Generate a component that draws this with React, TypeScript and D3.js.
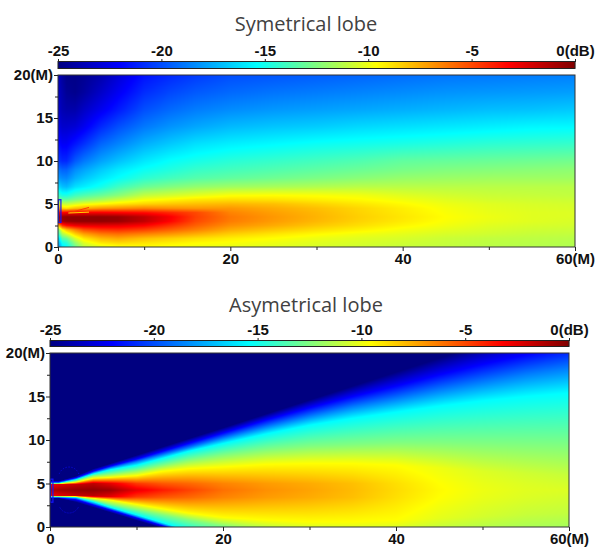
import { useEffect, useRef } from 'react';
import * as d3 from 'd3';

const width = 597;
const height = 547;

// colour bar stops (dB -> colour)
const dbStops = [-25, -22, -15.4, -12.5, -9.6, -3.2, 0];
const colourStops = ['#000080', '#0000ff', '#00ffff', '#80ff80', '#ffff00', '#ff0000', '#800000'];
const barTicks = [-25, -20, -15, -10, -5, 0];
const xTicks = [0, 20, 40, 60];
const xMinor = [10, 30, 50];
const yTicks = [0, 5, 10, 15, 20];
const yMinor = [2.5, 7.5, 12.5, 17.5];

// symetrical lobe: levels on a fixed grid, metres
const sampleX = [0, 0.5, 1, 2, 3, 5, 7, 10, 13, 16, 20, 25, 30, 35, 40, 45, 50, 55, 60];
const sampleY = [20, 18, 16, 14, 12, 10, 9, 8, 7, 6, 5.5, 5, 4.5, 4, 3.5, 3, 2.5, 2, 1.5, 1, 0.5, 0];

const symetricalLevels = [
  [-23.5, -24.3, -24.8, -24.8, -24.6, -24, -23, -21.6, -21, -20.5, -20, -19.8, -19.6, -19.4, -19.2, -19, -18.9, -18.8, -18.7],
  [-23.4, -24, -24.5, -24.7, -24.3, -23.3, -22.3, -20.9, -20.2, -19.7, -19.3, -19, -18.8, -18.6, -18.4, -18.2, -18.1, -18, -17.9],
  [-23.2, -23.8, -24, -24, -23.4, -22.4, -21.4, -20, -19.3, -18.8, -18.4, -18.1, -17.9, -17.7, -17.5, -17.3, -17.1, -17, -16.8],
  [-22.7, -23.2, -23.2, -23, -22.4, -21, -20, -18.9, -18.2, -17.7, -17.2, -16.9, -16.7, -16.4, -16.2, -16, -15.8, -15.6, -15.5],
  [-21.7, -22.2, -22.2, -21.5, -20.8, -19.4, -18.6, -17.5, -16.8, -16.2, -15.8, -15.5, -15.2, -15, -14.8, -14.6, -14.4, -14.3, -14.2],
  [-20.5, -21, -21, -19.7, -18.9, -17.8, -17, -16, -15.3, -14.9, -14.5, -14.2, -13.9, -13.6, -13.2, -13.1, -13, -12.9, -12.8],
  [-19, -19.5, -19.5, -18.4, -17.8, -16.8, -16, -15.2, -14.7, -14.2, -13.9, -13.6, -13.3, -13, -12.7, -12.5, -12.4, -12.3, -12.2],
  [-18, -18.4, -18.5, -17.5, -16.9, -16, -15.3, -14.4, -13.9, -13.5, -13.2, -12.9, -12.6, -12.3, -12, -11.9, -11.8, -11.8, -11.8],
  [-16.2, -17, -17.2, -16.2, -15.8, -15, -14, -13, -12.5, -12.1, -11.8, -11.6, -11.4, -11.2, -11.2, -11.2, -11.2, -11.2, -11.2],
  [-14, -14.8, -14.8, -14, -13.6, -13, -12.3, -11, -10.6, -10.2, -9.7, -9.6, -9.7, -9.9, -10.3, -10.6, -10.8, -10.9, -11],
  [-12.8, -13.2, -13.2, -12.6, -12.2, -11.6, -10.8, -9.8, -9.4, -9, -8.8, -8.9, -9.2, -9.5, -9.9, -10.3, -10.6, -10.7, -10.8],
  [-9.6, -10.8, -11, -10.5, -10, -9.5, -9, -8.5, -8.2, -8, -7.8, -8, -8.5, -9, -9.5, -10, -10.3, -10.5, -10.6],
  [-7, -8.5, -8.8, -8, -7.6, -7, -6.8, -6.5, -6.8, -7, -7, -7.5, -8, -8.6, -9.2, -9.8, -10.2, -10.4, -10.5],
  [-3.2, -3.2, -3, -3, -3, -3, -3.2, -3.5, -4.2, -5, -6.5, -7.2, -7.8, -8.5, -9.1, -9.7, -10.1, -10.3, -10.4],
  [-1, -0.6, -0.4, -0.4, -0.4, -0.4, -0.6, -1.6, -3, -4.8, -6.2, -7, -7.7, -8.4, -9, -9.6, -10, -10.3, -10.4],
  [-1.5, -0.8, -0.5, -0.4, -0.4, -0.4, -0.6, -1.6, -3.2, -5, -6.3, -7.1, -7.8, -8.5, -9.1, -9.7, -10.1, -10.3, -10.5],
  [-8, -4.5, -3.5, -2.8, -2.6, -2.5, -2.6, -3.2, -4.4, -5.6, -6.8, -7.5, -8.2, -8.8, -9.4, -9.9, -10.3, -10.5, -10.6],
  [-13, -9.6, -8, -6.5, -5.2, -4.5, -4.3, -4.8, -5.6, -6.4, -7.5, -8.2, -8.8, -9.3, -9.8, -10.2, -10.5, -10.7, -10.8],
  [-14.5, -11.5, -10.5, -8.5, -7.3, -6.3, -6, -6.5, -7, -7.6, -8.4, -9, -9.5, -9.9, -10.2, -10.5, -10.7, -10.9, -11],
  [-16.8, -13.5, -13, -10.5, -9, -7.8, -7.4, -8, -8.4, -8.8, -9.2, -9.6, -10, -10.3, -10.5, -10.8, -11, -11.1, -11.2],
  [-17.8, -15, -14.5, -12, -10.3, -9, -8.6, -8.9, -9.2, -9.5, -9.7, -10, -10.3, -10.5, -10.7, -10.9, -11.1, -11.2, -11.3],
  [-18.7, -16, -15.4, -13, -11.2, -10.3, -9.8, -9.6, -9.8, -10, -10.1, -10.3, -10.5, -10.7, -10.9, -11, -11.2, -11.3, -11.4],
];

// asymetrical lobe: the edges are straight rays, so this one is stored as level lines.
// each row is one line across the map, its height per column and its level per column
const asymX = [0, 1, 3, 5, 7, 10, 13, 16, 20, 25, 30, 35, 40, 45, 50, 55, 60];

const asymRowY = [
  [5.3, 5.3, 5.85, 6.7, 7.3, 8.25, 9.2, 10.15, 11.4, 13, 14.6, 16.2, 17.8, 19.4, 21, 22.6, 24.2],
  [5.2, 5.2, 5.65, 6.4, 7, 7.8, 8.7, 9.6, 10.8, 12.3, 13.7, 15, 16.2, 17.5, 18.7, 19.8, 20.8],
  [5.1, 5.1, 5.55, 6.25, 6.8, 7.5, 8.3, 9.1, 10.2, 11.5, 12.7, 13.8, 14.7, 15.7, 16.6, 17.5, 18.2],
  [5.05, 5.05, 5.45, 6.1, 6.6, 7.1, 7.9, 8.7, 9.6, 10.7, 11.7, 12.5, 13.2, 13.9, 14.5, 15, 15.4],
  [5, 5, 5.3, 5.9, 6.1, 6.5, 7.1, 7.7, 8.3, 8.9, 9.3, 9.5, 9.7, 9.7, 9.6, 9.5, 9.4],
  [4.95, 4.95, 5.15, 5.6, 5.7, 5.9, 6.4, 6.7, 6.9, 7.2, 7.3, 7.3, 7.1, 6.8, 6.4, 6.2, 6],
  [4.9, 4.9, 4.9, 5, 5, 5, 5, 5, 5, 5, 5, 5, 5, 5, 5, 5, 5],
  [4.25, 4.25, 4.25, 4.25, 4.25, 4.25, 4.25, 4.25, 4.25, 4.25, 4.25, 4.25, 4.25, 4.25, 4.25, 4.25, 4.25],
  [3.6, 3.6, 3.6, 3.55, 3.5, 3.45, 3.4, 3.4, 3.4, 3.4, 3.4, 3.4, 3.4, 3.4, 3.4, 3.4, 3.4],
  [3.55, 3.55, 3.5, 3.3, 3.1, 2.6, 2.1, 1.6, 1.1, 0.8, 0.6, 0.6, 0.8, 1, 1.2, 1.4, 1.6],
  [3.5, 3.5, 3.45, 3.1, 2.6, 2, 1.4, 0.8, 0.1, -0.8, -1.6, -2, -2.2, -2.2, -2.2, -2.2, -2.2],
  [3.45, 3.45, 3.4, 2.9, 2.25, 1.4, 0.5, -0.4, -1.6, -2.6, -3.5, -4, -4.2, -4.2, -4.2, -4.2, -4.2],
  [3.4, 3.4, 3.3, 2.7, 2.1, 1.2, 0.3, -0.6, -1.8, -3.1, -4.2, -4.9, -5.2, -5.2, -5.2, -5.2, -5.2],
  [3.35, 3.35, 3.15, 2.55, 1.95, 1.05, 0.15, -0.75, -1.95, -3.4, -4.8, -5.6, -6, -6, -6, -6, -6],
  [3.3, 3.3, 2.85, 2.25, 1.65, 0.75, -0.15, -1, -2.2, -3.8, -5.3, -6.6, -7, -7, -7, -7, -7],
];

const asymRowDb = [
  [-25, -25, -25, -25, -25, -25, -25, -25, -25, -25, -25, -25, -25, -25, -25, -25, -25],
  [-22, -22, -22, -22, -22, -22, -22, -22, -22, -22, -22, -22, -22, -22, -22, -22, -22],
  [-18.7, -18.7, -18.7, -18.7, -18.7, -18.7, -18.7, -18.7, -18.7, -18.7, -18.7, -18.7, -18.7, -18.7, -18.7, -18.7, -18.7],
  [-15.4, -15.4, -15.4, -15.4, -15.4, -15.4, -15.4, -15.4, -15.4, -15.4, -15.4, -15.4, -15.4, -15.4, -15.4, -15.4, -15.4],
  [-12.5, -12.5, -12.5, -12.5, -12.5, -12.5, -12.5, -12.5, -12.5, -12.5, -12.5, -12.5, -12.5, -12.5, -12.5, -12.5, -12.5],
  [-9.6, -9.6, -9.6, -9.6, -9.6, -9.6, -9.6, -9.6, -9.6, -9.6, -9.6, -9.6, -9.6, -10, -10.4, -10.7, -10.9],
  [-3.2, -2.6, -1.8, -1.6, -2.6, -4.6, -5.4, -5.8, -6.5, -7.1, -7.5, -8, -8.8, -9.6, -10.1, -10.4, -10.6],
  [-1.4, -0.9, -0.5, -0.4, -0.7, -2.6, -3.8, -4.8, -6, -6.8, -7.3, -7.9, -8.7, -9.5, -10, -10.3, -10.4],
  [-3.2, -2.6, -1.8, -1.6, -2.6, -4.6, -5.4, -5.8, -6.5, -7.1, -7.5, -8, -8.8, -9.6, -10.1, -10.4, -10.6],
  [-9.6, -9.6, -9.6, -9.6, -9.6, -9.6, -9.6, -9.6, -9.6, -9.6, -9.6, -9.6, -9.6, -10.2, -10.6, -10.9, -11],
  [-12.5, -12.5, -12.5, -12.5, -12.5, -12.5, -12.5, -12.5, -12.5, -12.5, -12.5, -12.5, -12.5, -12.5, -12.5, -12.5, -12.5],
  [-15.4, -15.4, -15.4, -15.4, -15.4, -15.4, -15.4, -15.4, -15.4, -15.4, -15.4, -15.4, -15.4, -15.4, -15.4, -15.4, -15.4],
  [-18.7, -18.7, -18.7, -18.7, -18.7, -18.7, -18.7, -18.7, -18.7, -18.7, -18.7, -18.7, -18.7, -18.7, -18.7, -18.7, -18.7],
  [-22, -22, -22, -22, -22, -22, -22, -22, -22, -22, -22, -22, -22, -22, -22, -22, -22],
  [-25, -25, -25, -25, -25, -25, -25, -25, -25, -25, -25, -25, -25, -25, -25, -25, -25],
];

// interference streaks just above the symetrical main lobe
const streakAX = [1.2, 3.6];
const streakAY = [3.95, 4.05];
const streakBX = [1.4, 3.6];
const streakBY = [4, 4.6];

// faint side lobe rings next to the asymetrical source: centre x, centre y, radius in metres
const ringX = [2.2, 2.2];
const ringY = [5.7, 2.8];
const ringR = [1.2, 1.2];
const ringFrom = [-1.2, 2];
const ringTo = [1.6, 4.3];

const colour = d3.scaleLinear<string>().domain(dbStops).range(colourStops).clamp(true);

const gridLevel = () => {
  const colIndex = d3.scaleLinear().domain(sampleX).range(sampleX.map((_, i) => i));
  const rowIndex = d3.scaleLinear().domain(sampleY).range(sampleY.map((_, i) => i));
  return (xm: number, ym: number) => {
    const r = rowIndex(ym);
    const c = colIndex(xm);
    const r0 = Math.min(Math.floor(r), sampleY.length - 2);
    const c0 = Math.min(Math.floor(c), sampleX.length - 2);
    const top = d3.interpolateNumber(symetricalLevels[r0][c0], symetricalLevels[r0][c0 + 1])(c - c0);
    const bottom = d3.interpolateNumber(symetricalLevels[r0 + 1][c0], symetricalLevels[r0 + 1][c0 + 1])(c - c0);
    return d3.interpolateNumber(top, bottom)(r - r0);
  };
};

const lineLevel = () => {
  const colIndex = d3.scaleLinear().domain(asymX).range(asymX.map((_, i) => i));
  return (xm: number, ym: number) => {
    const c = colIndex(xm);
    const c0 = Math.min(Math.floor(c), asymX.length - 2);
    const heights = asymRowY.map((row) => row[c0] + (row[c0 + 1] - row[c0]) * (c - c0));
    const levels = asymRowDb.map((row) => row[c0] + (row[c0 + 1] - row[c0]) * (c - c0));
    const profile = d3.scaleLinear().domain(heights).range(levels).clamp(true);
    return profile(ym);
  };
};

// paints a level function into a bitmap, one value per pixel
const levelImage = (level: (x: number, y: number) => number, w: number, h: number) => {
  const canvas = document.createElement('canvas');
  canvas.width = w;
  canvas.height = h;
  const ctx = canvas.getContext('2d')!;
  const img = ctx.createImageData(w, h);
  const x = d3.scaleLinear().domain([0, 60]).range([0, w]);
  const y = d3.scaleLinear().domain([0, 20]).range([h, 0]);
  for (let j = 0; j < h; j++) {
    for (let i = 0; i < w; i++) {
      const rgb = d3.rgb(colour(level(x.invert(i + 0.5), y.invert(j + 0.5))));
      const k = (j * w + i) * 4;
      img.data[k] = rgb.r;
      img.data[k + 1] = rgb.g;
      img.data[k + 2] = rgb.b;
      img.data[k + 3] = 255;
    }
  }
  ctx.putImageData(img, 0, 0);
  return canvas.toDataURL();
};

const styleAxis = (g: any) => {
  g.select('.domain').remove();
  g.selectAll('line').attr('stroke', '#222');
  g.selectAll('text')
    .attr('fill', '#111')
    .attr('font-family', '"Liberation Sans Narrow", "Liberation Sans", sans-serif')
    .attr('font-weight', 'bold')
    .attr('font-size', 15);
};

const drawPanel = (
  root: any,
  title: string,
  level: (x: number, y: number) => number,
  left: number,
  right: number,
  top: number,
  bottom: number,
  barTop: number,
  barBottom: number,
  titleY: number
) => {
  const x = d3.scaleLinear().domain([0, 60]).range([left, right]);
  const y = d3.scaleLinear().domain([0, 20]).range([bottom, top]);
  const bar = d3.scaleLinear().domain([-25, 0]).range([left, right]);

  root
    .append('text')
    .attr('x', 306)
    .attr('y', titleY)
    .attr('text-anchor', 'middle')
    .attr('fill', '#414141')
    .attr('font-family', '"Open Sans", sans-serif')
    .attr('font-size', 20)
    .text(title);

  // colour bar
  root
    .append('g')
    .selectAll('rect')
    .data(d3.range(left, right))
    .join('rect')
    .attr('x', (d: number) => d)
    .attr('y', barTop)
    .attr('width', 1.2)
    .attr('height', barBottom - barTop)
    .attr('fill', (d: number) => colour(bar.invert(d + 0.5)));
  root
    .append('rect')
    .attr('x', left)
    .attr('y', barTop - 0.5)
    .attr('width', right - left)
    .attr('height', barBottom - barTop + 1)
    .attr('fill', 'none')
    .attr('stroke', '#222');
  root
    .append('g')
    .attr('transform', `translate(0, ${barTop})`)
    .call(
      d3
        .axisTop(bar)
        .tickValues(barTicks)
        .tickSize(3)
        .tickPadding(3)
        .tickFormat((d: any) => (d === 0 ? '0(dB)' : `${d}`))
    )
    .call(styleAxis);

  // level map
  root
    .append('image')
    .attr('x', left)
    .attr('y', top)
    .attr('width', right - left)
    .attr('height', bottom - top)
    .attr('preserveAspectRatio', 'none')
    .attr('href', levelImage(level, right - left, bottom - top));

  return { x, y, left, right, top, bottom };
};

// frame, source outline and axes go over the map and whatever was drawn on it
const drawFrame = (root: any, { x, y, left, right, top, bottom }: any) => {
  root
    .append('rect')
    .attr('x', x(0) + 0.5)
    .attr('y', y(5.5))
    .attr('width', x(0.28) - x(0))
    .attr('height', y(2.85) - y(5.5))
    .attr('fill', 'none')
    .attr('stroke', '#1414ff')
    .attr('stroke-width', 1.2);

  root
    .append('rect')
    .attr('x', left)
    .attr('y', top)
    .attr('width', right - left)
    .attr('height', bottom - top)
    .attr('fill', 'none')
    .attr('stroke', '#333');

  root
    .append('g')
    .attr('transform', `translate(0, ${bottom})`)
    .call(
      d3
        .axisBottom(x)
        .tickValues(xTicks)
        .tickSize(4)
        .tickPadding(2)
        .tickFormat((d: any) => (d === 60 ? '60(M)' : `${d}`))
    )
    .call(styleAxis);
  root
    .append('g')
    .attr('transform', `translate(0, ${bottom})`)
    .call(d3.axisBottom(x).tickValues(xMinor).tickSize(3).tickFormat(() => ''))
    .call(styleAxis);

  root
    .append('g')
    .attr('transform', `translate(${left}, 0)`)
    .call(
      d3
        .axisLeft(y)
        .tickValues(yTicks)
        .tickSize(4)
        .tickPadding(1)
        .tickFormat((d: any) => (d === 20 ? '20(M)' : `${d}`))
    )
    .call(styleAxis);
  root
    .append('g')
    .attr('transform', `translate(${left}, 0)`)
    .call(d3.axisLeft(y).tickValues(yMinor).tickSize(3).tickFormat(() => ''))
    .call(styleAxis);
};

const App = () => {
  const ref = useRef<SVGSVGElement>(null);

  useEffect(() => {
    const svg = d3.select(ref.current);
    svg.selectAll('*').remove();
    const upper = svg.append('g');
    const lower = svg.append('g');
    const first = drawPanel(upper, 'Symetrical lobe', gridLevel(), 58, 575, 75, 247, 62, 68, 31);
    const second = drawPanel(lower, 'Asymetrical lobe', lineLevel(), 50, 569, 353, 527, 341, 346, 312);

    const drawStreak = (xs: number[], ys: number[], stroke: string) => {
      const streak = d3
        .line<number>()
        .x((d) => first.x(d))
        .y((_, i) => first.y(ys[i]));
      upper
        .append('path')
        .attr('d', streak(xs))
        .attr('fill', 'none')
        .attr('stroke', stroke)
        .attr('stroke-width', 1);
    };
    drawStreak(streakBX, streakBY, '#ff3c00');
    drawStreak(streakAX, streakAY, '#ffd400');

    const pxPerMetre = second.x(1) - second.x(0);
    lower
      .append('g')
      .selectAll('path')
      .data(ringX)
      .join('path')
      .attr('transform', (d, i) => `translate(${second.x(d)}, ${second.y(ringY[i])})`)
      .attr('d', (_, i) =>
        d3.arc()({
          innerRadius: ringR[i] * pxPerMetre,
          outerRadius: ringR[i] * pxPerMetre,
          startAngle: ringFrom[i],
          endAngle: ringTo[i],
        })
      )
      .attr('fill', 'none')
      .attr('stroke', '#0a0ad2')
      .attr('stroke-width', 0.8)
      .attr('stroke-dasharray', '1 2');

    drawFrame(upper, first);
    drawFrame(lower, second);
  }, []);

  return (
    <svg
      ref={ref}
      width={width}
      height={height}
      viewBox={`0 0 ${width} ${height}`}
      style={{ position: 'absolute', left: 0, top: 0, background: '#fff' }}
    />
  );
};

export default App;
